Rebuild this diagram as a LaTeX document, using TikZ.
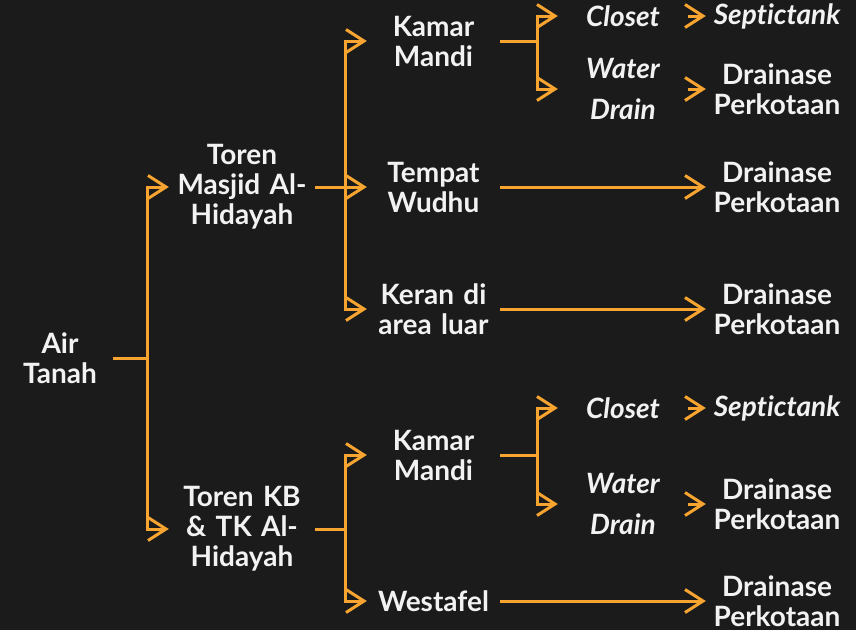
\documentclass[tikz,border=0pt]{standalone}
\usepackage{fontspec}
\setmainfont{Lato}[Ligatures={NoCommon,NoRare}]
\usepackage{tikz}
\usetikzlibrary{positioning,calc,arrows.meta}

\definecolor{bgdark}{RGB}{27,27,27}
\definecolor{flow}{RGB}{247,165,48}
\definecolor{label}{RGB}{242,242,242}

\begin{document}
\begin{tikzpicture}[x=1pt, y=-1pt,
    every node/.style={text=label, font=\bfseries\fontsize{28}{30}\selectfont, align=center, inner sep=0pt},
    lvl0/.style={text width=106pt},
    lvl1/.style={text width=146pt},
    lvl2/.style={text width=133pt},
    lvl3/.style={text width=130pt, font=\bfseries\itshape\fontsize{28}{30}\selectfont},
    lvl4/.style={text width=142pt},
    link/.style={draw=flow, line width=3pt},
    flowarrow/.style={link, -{Straight Barb[length=18pt, width=23pt]}}]
  \fill[bgdark] (0,0) rectangle (856,630);
  \useasboundingbox (0,0) rectangle (856,630);

  % source and towers
  \node (air) [lvl0] at (60,358) {Air\\Tanah};
  \node (toren1) [lvl1] at (242,187) {Toren\\Masjid Al-\\Hidayah};
  \node (toren2) [lvl1] at (242,529) {Toren KB\\\& TK Al-\\Hidayah};

  % outlets of the mosque tower
  \node (kamar1) [lvl2] at (433.5,41) {Kamar\\Mandi};
  \node (wudhu) [lvl2] at (433.5,187) {Tempat\\Wudhu};
  \node (keran) [lvl2] at (433.5,309) {Keran di\\area luar};

  % outlets of the school tower
  \node (kamar2) [lvl2] at (433.5,455) {Kamar\\Mandi};
  \node (westafel) [lvl2] at (433.5,601) {Westafel};

  % bathroom fittings
  \node (closet1) [lvl3] at (623,16) {Closet};
  \node (drain1) [lvl3] at (623,89) {Water\\[11pt]Drain};
  \node (closet2) [lvl3] at (623,408) {Closet};
  \node (drain2) [lvl3] at (623,504) {Water\\[11pt]Drain};

  % final disposal
  \node (septic1) [lvl4, font=\bfseries\itshape\fontsize{28}{30}\selectfont] at (777,16) {Septictank};
  \node (kota1) [lvl4] at (777,89) {Drainase\\Perkotaan};
  \node (kota2) [lvl4] at (777,187) {Drainase\\Perkotaan};
  \node (kota3) [lvl4] at (777,309) {Drainase\\Perkotaan};
  \node (septic2) [lvl4, font=\bfseries\itshape\fontsize{28}{30}\selectfont] at (777,408) {Septictank};
  \node (kota4) [lvl4] at (777,504) {Drainase\\Perkotaan};
  \node (kota5) [lvl4] at (777,601) {Drainase\\Perkotaan};

  % branch points
  \coordinate (jair) at ([xshift=34pt]air.east);
  \coordinate (jt1) at ([xshift=30pt]toren1.east);
  \coordinate (jt2) at ([xshift=30pt]toren2.east);
  \coordinate (jk1) at ([xshift=37pt]kamar1.east);
  \coordinate (jk2) at ([xshift=37pt]kamar2.east);

  \draw[link] (air.east) -- (jair);
  \draw[flowarrow] (jair) |- (toren1.west);
  \draw[flowarrow] (jair) |- (toren2.west);

  \draw[link] (toren1.east) -- (jt1);
  \draw[flowarrow] (jt1) |- (kamar1.west);
  \draw[flowarrow] (jt1) -- (wudhu.west);
  \draw[flowarrow] (jt1) |- (keran.west);

  \draw[link] (toren2.east) -- (jt2);
  \draw[flowarrow] (jt2) |- (kamar2.west);
  \draw[flowarrow] (jt2) |- (westafel.west);

  \draw[link] (kamar1.east) -- (jk1);
  \draw[flowarrow] (jk1) |- (closet1.west);
  \draw[flowarrow] (jk1) |- (drain1.west);

  \draw[link] (kamar2.east) -- (jk2);
  \draw[flowarrow] (jk2) |- (closet2.west);
  \draw[flowarrow] (jk2) |- (drain2.west);

  \draw[flowarrow] (closet1.east) -- (septic1.west);
  \draw[flowarrow] (drain1.east) -- (kota1.west);
  \draw[flowarrow] (wudhu.east) -- (kota2.west);
  \draw[flowarrow] (keran.east) -- (kota3.west);
  \draw[flowarrow] (closet2.east) -- (septic2.west);
  \draw[flowarrow] (drain2.east) -- (kota4.west);
  \draw[flowarrow] (westafel.east) -- (kota5.west);
\end{tikzpicture}
\end{document}
